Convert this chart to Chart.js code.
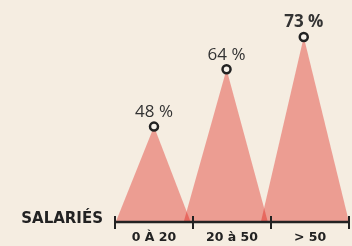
<!DOCTYPE html>
<html>
<head>
<meta charset="utf-8">
<script src="https://cdn.jsdelivr.net/npm/chart.js@4/dist/chart.umd.min.js"></script>
<style>
  html, body { margin: 0; padding: 0; background: #f5ede1; }
  #wrap { width: 352px; height: 246px; }
</style>
</head>
<body>
<div id="wrap"><canvas id="chart"></canvas></div>
<script>
const categories = ["0 À 20", "20 à 50", "> 50"];
const percents = [48, 64, 73];
const valueLabels = ["48 %", "64 %", "73 %"];
// triangle footprint along the category axis (category units)
const peakPos = [0, 0.93, 1.92];
const baseLeft = [-0.49, 0.38, 1.37];
const baseRight = [0.47, 1.46, 2.5];
const axisTitle = "SALARIÉS";
const yMin = 21.4;
const yMax = 83.3;

const fillColor = 'rgba(220, 10, 0, 0.35)';
const ink = '#222222';
const fontFam = 'Open Sans';
const wideFam = 'DejaVu Sans';

const datasets = percents.map((v, i) => ({
  label: categories[i],
  xAxisID: 'xv',
  data: [
    { x: baseLeft[i], y: yMin },
    { x: peakPos[i], y: v },
    { x: baseRight[i], y: yMin }
  ],
  borderWidth: 0,
  borderColor: 'rgba(0,0,0,0)',
  backgroundColor: fillColor,
  fill: 'origin',
  tension: 0,
  clip: false,
  pointRadius: [0, 4, 0],
  pointBorderWidth: 2.5,
  pointBorderColor: ink,
  pointBackgroundColor: '#f7f2ea'
}));

const decorPlugin = {
  id: 'decor',
  afterDatasetsDraw(chart) {
    const ctx = chart.ctx;
    const xv = chart.scales.xv;
    const y = chart.scales.y;
    const base = y.getPixelForValue(yMin);
    ctx.save();
    ctx.strokeStyle = ink;
    ctx.lineWidth = 2.5;
    ctx.beginPath();
    ctx.moveTo(xv.getPixelForValue(-0.5), base);
    ctx.lineTo(xv.getPixelForValue(2.5), base);
    ctx.stroke();
    ctx.lineWidth = 2;
    for (let b = -0.5; b <= 2.5; b += 1) {
      const px = Math.round(xv.getPixelForValue(b));
      ctx.beginPath();
      ctx.moveTo(px, base - 6);
      ctx.lineTo(px, base + 7);
      ctx.stroke();
    }
    // value labels above peaks
    ctx.fillStyle = '#333333';
    ctx.textAlign = 'center';
    ctx.textBaseline = 'bottom';
    percents.forEach((v, i) => {
      const last = i === percents.length - 1;
      ctx.font = (last ? 'bold ' : '') + '17px "' + fontFam + '"';
      ctx.fillText(valueLabels[i], xv.getPixelForValue(peakPos[i]), y.getPixelForValue(v) - 6);
    });
    // axis title on the left
    ctx.fillStyle = ink;
    ctx.font = 'bold 15px "' + wideFam + '"';
    ctx.textAlign = 'right';
    ctx.textBaseline = 'middle';
    ctx.fillText(axisTitle, xv.getPixelForValue(-0.5) - 12, base - 3);
    ctx.restore();
  }
};

new Chart(document.getElementById('chart'), {
  type: 'line',
  data: { labels: categories, datasets: datasets },
  options: {
    responsive: true,
    maintainAspectRatio: false,
    animation: false,
    layout: { autoPadding: false, padding: { left: 115, right: 3, top: 0, bottom: 0 } },
    plugins: { legend: { display: false }, tooltip: { enabled: false } },
    scales: {
      x: {
        type: 'category',
        offset: true,
        border: { display: false },
        grid: { display: false, drawTicks: false, tickLength: 0 },
        ticks: { color: ink, font: { family: wideFam, weight: 'bold', size: 12.5 }, padding: 8.5, maxRotation: 0 },
        afterFit(scale) { scale.height = 24; }
      },
      xv: {
        type: 'linear',
        display: false,
        min: -0.5,
        max: 2.5
      },
      y: {
        display: false,
        min: yMin,
        max: yMax
      }
    }
  },
  plugins: [decorPlugin]
});
</script>
</body>
</html>
